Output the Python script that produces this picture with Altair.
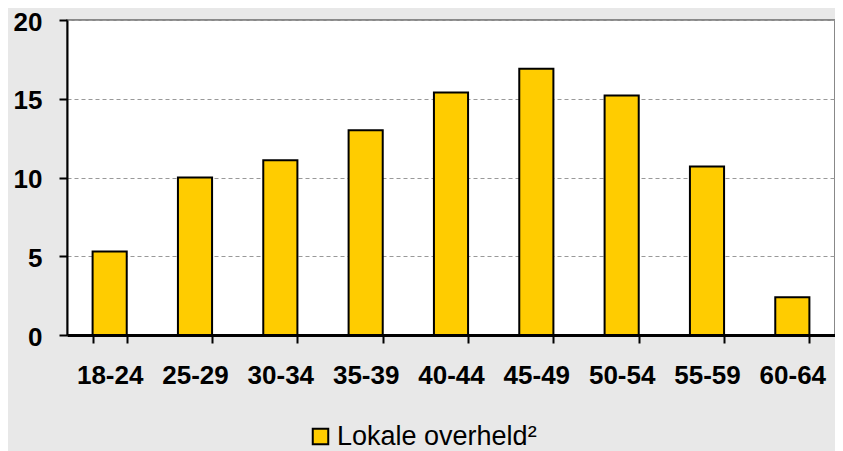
import altair as alt
import pandas as pd

categories = ["18-24", "25-29", "30-34", "35-39", "40-44", "45-49", "50-54", "55-59", "60-64"]
values = [5.3, 10.0, 11.1, 13.0, 15.4, 16.9, 15.2, 10.7, 2.4]
series = "Lokale overheld²"
y_ticks = [0, 5, 10, 15, 20]

df = pd.DataFrame({"cat": categories, "val": values, "series": [series] * len(categories)})

FONT = "Liberation Sans"

chart = alt.Chart(df).mark_bar(stroke="black", strokeWidth=2).encode(
    x=alt.X("cat:N", sort=categories, title=None,
            scale=alt.Scale(paddingInner=0.6, paddingOuter=0.3),
            axis=alt.Axis(labelAngle=0, labelFont=FONT, labelFontSize=26, labelFontWeight="bold",
                          labelColor="black", labelPadding=19, tickBand="extent",
                          tickSize=8, tickWidth=2, tickColor="black",
                          domainColor="black", domainWidth=3)),
    y=alt.Y("val:Q", title=None,
            scale=alt.Scale(domain=[0, 20], nice=False),
            axis=alt.Axis(values=y_ticks, labelFont=FONT, labelFontSize=26, labelFontWeight="bold",
                          labelColor="black", labelPadding=17, labelOffset=2,
                          tickSize=8, tickWidth=2, tickColor="black",
                          domainColor="black", domainWidth=2,
                          grid=True, gridColor="#999999", gridDash=[4, 3], gridWidth=1)),
    color=alt.Color("series:N", title=None,
                    scale=alt.Scale(domain=[series], range=["#FFCC00"]),
                    legend=alt.Legend(orient="none", legendX=240, legendY=403,
                                      symbolType="square", symbolSize=240,
                                      symbolStrokeColor="black", symbolStrokeWidth=2,
                                      labelFont=FONT, labelFontSize=27, labelColor="black",
                                      labelOffset=3, labelLimit=0, padding=0)),
).properties(
    width=768,
    height=315,
    background="#e8e8e8",
    padding={"left": 59, "top": 12, "right": 0, "bottom": 116},
    autosize=alt.AutoSizeParams(type="none"),
).configure_view(
    fill="white", stroke="#888888", strokeWidth=2
)

chart.save("out.html", embed_options={"renderer": "svg", "actions": False})
